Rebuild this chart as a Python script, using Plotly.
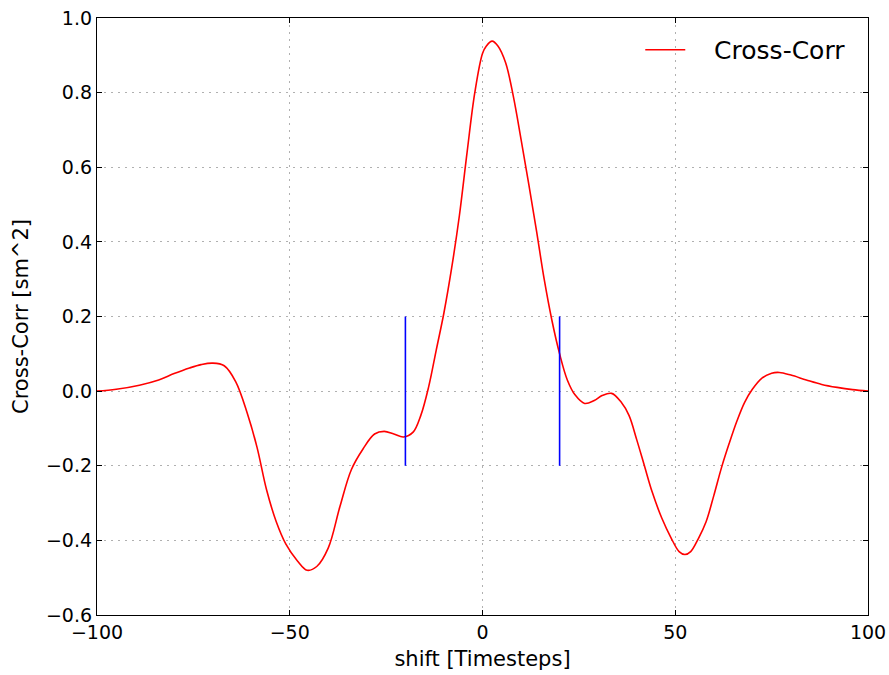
import plotly.graph_objects as go

shift = [-100, -95, -89, -84, -80, -76, -73, -70, -67, -64, -61, -58.5, -56, -53.5, -51, -48, -45.5, -43, -40,
         -37, -34, -31, -28, -25.5, -23, -20.5, -18, -16, -14, -12, -10, -8, -6, -4, -2, 0, 1, 2.5, 4, 6, 8,
         10, 12, 14, 16, 18, 20, 22, 24, 26.5, 29, 31, 33.5, 36, 38, 40, 42, 44, 46.5, 49, 51, 52.5, 54, 56,
         58, 60, 62, 64, 66, 68, 70, 72.5, 75, 77, 80, 84, 88, 92, 96, 100]
cross_corr = [0.0, 0.005, 0.016, 0.030, 0.047, 0.062, 0.071, 0.075, 0.068, 0.025, -0.06, -0.15, -0.265, -0.35,
              -0.41, -0.455, -0.48, -0.47, -0.42, -0.31, -0.21, -0.155, -0.115, -0.108, -0.115, -0.123, -0.11,
              -0.065, 0.01, 0.11, 0.21, 0.33, 0.47, 0.64, 0.80, 0.905, 0.925, 0.938, 0.925, 0.88, 0.79, 0.675,
              0.555, 0.43, 0.30, 0.19, 0.10, 0.03, -0.01, -0.033, -0.025, -0.012, -0.006, -0.03, -0.065, -0.13,
              -0.20, -0.27, -0.34, -0.395, -0.43, -0.438, -0.43, -0.395, -0.35, -0.28, -0.205, -0.14, -0.08,
              -0.03, 0.005, 0.035, 0.048, 0.05, 0.043, 0.030, 0.018, 0.010, 0.004, 0.0]

marker_x = [-20, 20]
marker_lo = -0.2
marker_hi = 0.2

x_ticks = [-100, -50, 0, 50, 100]
y_ticks = [-0.6, -0.4, -0.2, 0.0, 0.2, 0.4, 0.6, 0.8, 1.0]

fig = go.Figure()
fig.add_trace(go.Scatter(x=shift, y=cross_corr, mode="lines", name="\u00a0\u00a0\u00a0Cross-Corr",
                         line=dict(color="#ff0000", width=1.6, shape="spline", smoothing=1.0)))
for mx in marker_x:
    fig.add_trace(go.Scatter(x=[mx, mx], y=[marker_lo, marker_hi], mode="lines", showlegend=False,
                             line=dict(color="#0000ff", width=1.6)))

axis_common = dict(showline=True, linecolor="black", linewidth=1.3, mirror="allticks",
                   ticks="inside", ticklen=5, tickcolor="black", tickwidth=1,
                   showgrid=True, gridcolor="#b0b0b0", griddash="2px,5px", gridwidth=1,
                   zeroline=False, automargin=False,
                   tickfont=dict(family="DejaVu Sans", size=19, color="black"))

fig.update_xaxes(range=[-100, 100], tickvals=x_ticks, ticktext=[f"{v}".replace("-", "\u2212") for v in x_ticks],
                 title=dict(text="shift [Timesteps]", font=dict(family="DejaVu Sans", size=21, color="black"),
                            standoff=9),
                 **axis_common)
fig.update_yaxes(range=[-0.6, 1.0], tickvals=y_ticks,
                 ticktext=[f"{v:.1f}".replace("-", "\u2212") for v in y_ticks],
                 title=dict(text="Cross-Corr [sm^2]", font=dict(family="DejaVu Sans", size=21, color="black"),
                            standoff=11),
                 **axis_common)

fig.update_layout(width=889, height=675, margin=dict(l=97, r=21, t=18, b=60),
                  plot_bgcolor="white", paper_bgcolor="white",
                  font=dict(family="DejaVu Sans", color="black"),
                  legend=dict(x=0.977, xanchor="right", y=0.985, yanchor="top", bgcolor="rgba(0,0,0,0)",
                              itemwidth=40,
                              font=dict(family="DejaVu Sans", size=25, color="black")))

fig.write_html("out.html")
